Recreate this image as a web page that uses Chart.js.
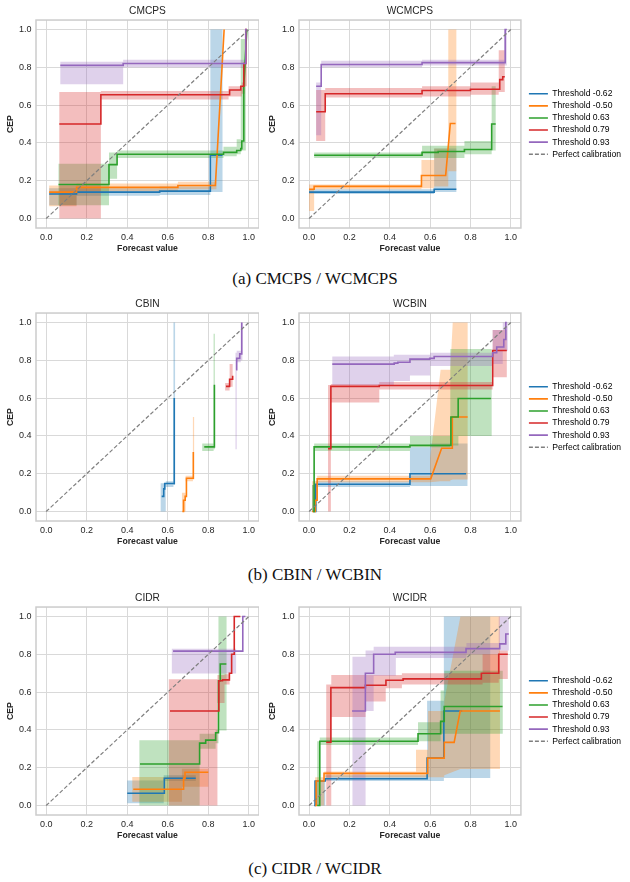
<!DOCTYPE html>
<html>
<head>
<meta charset="utf-8">
<script src="https://cdn.jsdelivr.net/npm/chart.js@4.4.0/dist/chart.umd.min.js"></script>
<style>
  html, body { margin: 0; padding: 0; background: #fff; }
  body { position: relative; width: 630px; height: 882px; overflow: hidden; }
  .panel { position: absolute; height: 254px; }
  .panel.left { left: 0; width: 259px; }
  .panel.right { left: 262px; width: 369px; }
  .cap { position: absolute; transform: translateX(-50%); white-space: nowrap;
         font: 17px "Liberation Serif", "Times New Roman", serif; color: #111; line-height: 20px; }
</style>
</head>
<body>
<div class="panel left" style="top:0"><canvas id="cmcps"></canvas></div>
<div class="panel right" style="top:0"><canvas id="wcmcps"></canvas></div>
<div class="cap" style="left:315px;top:269px">(a) CMCPS / WCMCPS</div>

<div class="panel left" style="top:293px"><canvas id="cbin"></canvas></div>
<div class="panel right" style="top:293px"><canvas id="wcbin"></canvas></div>
<div class="cap" style="left:315px;top:565px">(b) CBIN / WCBIN</div>

<div class="panel left" style="top:587px"><canvas id="cidr"></canvas></div>
<div class="panel right" style="top:587px"><canvas id="wcidr"></canvas></div>
<div class="cap" style="left:315px;top:859px">(c) CIDR / WCIDR</div>

<script>
// ---- data ----
// line rows: [x, y, diag?]  -> value y holds from x on (steps-post); diag=1 means straight segment to here
// band rows: [x, lo, hi, diag?]
const THRESHOLDS = ['-0.62', '-0.50', '0.63', '0.79', '0.93'];
const COLORS = ['#1f77b4', '#ff7f0e', '#2ca02c', '#d62728', '#9467bd'];
const TICKS = [0, 0.2, 0.4, 0.6, 0.8, 1.0];
const DIAG = [0, 1];

const cmcpsLines = [
  [[0.015,0.13],[0.15,0.14],[0.56,0.145],[0.81,0.335],[0.87,0.335]],
  [[0.015,0.14],[0.15,0.165],[0.65,0.175],[0.835,0.18],[0.878,1.0,1]],
  [[0.061,0.18],[0.31,0.285],[0.35,0.34],[0.875,0.35],[0.94,0.36],[0.96,0.37],[0.965,0.41],[0.975,0.45],[0.975,0.7],[0.99,1.0,1]],
  [[0.065,0.5],[0.27,0.655],[0.905,0.68],[0.96,0.7],[0.975,0.82],[0.985,1.0],[0.99,1.0]],
  [[0.07,0.81],[0.38,0.82],[0.985,1.0],[0.99,1.0]]
];
const cmcpsBands = [
  [[0.015,0.07,0.16],[0.15,0.12,0.16],[0.56,0.125,0.17],[0.81,0.14,1.0],[0.87,0.14,1.0]],
  [[0.015,0.065,0.175],[0.15,0.145,0.185],[0.65,0.155,0.195],[0.84,0.155,0.195]],
  [[0.061,0.07,0.29],[0.31,0.21,0.35],[0.35,0.32,0.36],[0.875,0.33,0.38],[0.94,0.34,0.42],[0.96,0.36,0.95],[0.985,0.36,0.95]],
  [[0.065,0.0,0.67],[0.27,0.63,0.675],[0.9,0.645,0.70],[0.965,0.66,0.72],[0.98,0.7,1.0],[0.99,0.7,1.0]],
  [[0.07,0.71,0.83],[0.38,0.80,0.84],[0.985,0.80,0.84]]
];

const wcmcpsLines = [
  [[0.0,0.14],[0.62,0.155],[0.73,0.155]],
  [[0.0,0.155],[0.025,0.17],[0.557,0.228],[0.677,0.228],[0.70,0.503,1],[0.726,0.503]],
  [[0.025,0.335],[0.56,0.35],[0.64,0.355],[0.77,0.365],[0.905,0.5],[0.925,0.5]],
  [[0.035,0.565],[0.08,0.66],[0.56,0.677],[0.8,0.684],[0.945,0.735],[0.96,0.75],[0.97,0.75]],
  [[0.035,0.70],[0.06,0.815],[0.56,0.825],[0.972,1.0],[0.98,1.0]]
];
const wcmcpsBands = [
  [[0.0,0.13,0.155],[0.62,0.14,0.37],[0.73,0.14,0.37]],
  [[0.0,0.04,0.18],[0.025,0.155,0.18],[0.557,0.16,0.31],[0.62,0.17,0.37],[0.69,0.25,1.0],[0.73,0.25,1.0]],
  [[0.025,0.32,0.35],[0.56,0.32,0.385],[0.77,0.34,0.41],[0.905,0.36,0.7],[0.925,0.36,0.7]],
  [[0.035,0.41,0.68],[0.08,0.64,0.69],[0.56,0.645,0.70],[0.8,0.655,0.72],[0.94,0.67,0.89],[0.97,0.67,0.89]],
  [[0.035,0.44,0.72],[0.06,0.80,0.835],[0.56,0.81,0.84],[0.97,0.81,1.0],[0.98,0.81,1.0]]
];

const cbinLines = [
  [[0.57,0.08],[0.58,0.12],[0.585,0.148],[0.632,0.6]],
  [[0.672,0.0],[0.678,0.06],[0.686,0.08],[0.692,0.176],[0.726,0.315]],
  [[0.78,0.342],[0.83,0.671]],
  [[0.887,0.662],[0.905,0.70],[0.92,0.718]],
  [[0.937,0.75],[0.94,0.81],[0.955,0.834],[0.965,1.0]]
];
const cbinBands = [
  [[0.565,0.0,0.15],[0.59,0.13,0.16],[0.628,0.14,1.0],[0.636,0.14,1.0]],
  [[0.67,0.0,0.1],[0.688,0.16,0.19],[0.724,0.17,0.5],[0.73,0.17,0.5]],
  [[0.77,0.32,0.36],[0.826,0.33,0.94],[0.832,0.33,0.94]],
  [[0.883,0.64,0.68],[0.905,0.66,0.78],[0.92,0.66,0.78]],
  [[0.934,0.33,0.84],[0.94,0.79,0.85],[0.96,0.8,1.0],[0.968,0.8,1.0]]
];

const wcbinLines = [
  [[0.02,0.0],[0.033,0.144],[0.5,0.2],[0.778,0.2]],
  [[0.015,0.0],[0.03,0.06],[0.04,0.173],[0.603,0.173],[0.657,0.335,1],[0.706,0.335],[0.71,0.5],[0.786,0.5]],
  [[0.02,0.0],[0.025,0.342],[0.5,0.35],[0.703,0.5],[0.739,0.598],[0.901,0.598]],
  [[0.094,0.333],[0.108,0.662],[0.348,0.667],[0.91,0.852],[0.98,0.852]],
  [[0.115,0.78],[0.422,0.785],[0.44,0.79],[0.5,0.806],[0.598,0.81],[0.62,0.82],[0.91,0.84],[0.93,0.87],[0.965,0.91],[0.975,1.0],[0.98,1.0]]
];
const wcbinBands = [
  [[0.015,0.0,0.14],[0.033,0.13,0.16],[0.5,0.135,0.34],[0.6,0.135,0.36],[0.785,0.135,0.36]],
  [[0.015,0.0,0.16],[0.04,0.155,0.19],[0.6,0.155,0.28],[0.652,0.16,0.75,1],[0.70,0.165,0.75],[0.712,0.17,1.0,1],[0.786,0.17,1.0]],
  [[0.015,0.0,0.14],[0.025,0.32,0.36],[0.5,0.34,0.40],[0.70,0.35,0.86],[0.74,0.40,0.86],[0.905,0.40,0.86]],
  [[0.094,0.0,0.67],[0.108,0.577,0.675],[0.348,0.645,0.685],[0.91,0.71,0.96],[0.98,0.71,0.96]],
  [[0.115,0.67,0.82],[0.42,0.69,0.83],[0.5,0.72,0.83],[0.6,0.77,0.84],[0.91,0.78,0.96],[0.96,0.85,1.0],[0.985,0.85,1.0]]
];

const cidrLines = [
  [[0.4,0.065],[0.583,0.144],[0.738,0.144]],
  [[0.43,0.086],[0.678,0.145],[0.685,0.176],[0.80,0.176]],
  [[0.463,0.22],[0.757,0.33],[0.787,0.346],[0.836,0.385],[0.85,0.66],[0.859,0.749],[0.889,0.749]],
  [[0.611,0.5],[0.852,0.66],[0.87,0.665],[0.904,0.70],[0.915,0.80],[0.928,1.0],[0.958,1.0]],
  [[0.626,0.817],[0.97,1.0],[0.983,1.0]]
];
const cidrBands = [
  [[0.4,0.012,0.132],[0.58,0.13,0.16],[0.738,0.13,0.16]],
  [[0.425,0.02,0.151],[0.67,0.1,0.195],[0.80,0.1,0.195]],
  [[0.46,0.0,0.346],[0.757,0.3,0.38],[0.836,0.33,0.40],[0.85,0.397,1.0],[0.89,0.397,1.0]],
  [[0.605,0.0,0.668],[0.845,0.543,0.69],[0.88,0.64,0.695],[0.905,0.64,0.695]],
  [[0.62,0.698,0.83],[0.937,0.698,0.83]]
];

const wcidrLines = [
  [[0.025,0.0],[0.03,0.13],[0.08,0.142],[0.585,0.251],[0.668,0.5],[0.759,0.5]],
  [[0.03,0.0],[0.035,0.13],[0.074,0.17],[0.588,0.251],[0.67,0.334],[0.719,0.334],[0.749,0.5,1],[0.946,0.5]],
  [[0.04,0.0],[0.053,0.34],[0.54,0.38],[0.652,0.445],[0.67,0.524],[0.959,0.524]],
  [[0.085,0.335],[0.108,0.624],[0.279,0.636],[0.381,0.663],[0.466,0.67],[0.854,0.70],[0.94,0.80],[0.985,0.80]],
  [[0.213,0.5],[0.279,0.7],[0.32,0.8],[0.427,0.81],[0.778,0.83],[0.945,0.855],[0.975,0.907],[0.99,0.907]]
];
const wcidrBands = [
  [[0.025,0.0,0.13],[0.08,0.13,0.16],[0.585,0.13,0.554],[0.668,0.146,1.0],[0.898,0.146,1.0]],
  [[0.03,0.0,0.15],[0.075,0.15,0.18],[0.53,0.15,0.295],[0.59,0.15,0.5],[0.67,0.16,0.55],[0.75,0.193,1.0,1],[0.946,0.193,1.0]],
  [[0.04,0.0,0.34],[0.053,0.32,0.36],[0.54,0.34,0.44],[0.652,0.38,0.608],[0.67,0.38,0.713],[0.96,0.38,0.713]],
  [[0.085,0.0,0.64],[0.11,0.469,0.69],[0.28,0.55,0.69],[0.38,0.62,0.69],[0.46,0.64,0.70],[0.86,0.65,0.80],[0.94,0.67,0.82],[0.985,0.67,0.82]],
  [[0.215,0.0,0.787],[0.28,0.5,0.82],[0.32,0.687,0.84],[0.43,0.78,0.84],[0.78,0.8,0.86],[0.94,0.82,1.0],[0.99,0.82,1.0]]
];

// ---- style ----
const SANS = '"Liberation Sans", Arial, sans-serif';
const TXT = '#262626';
const GRID = '#d9d9d9';
const FRAME = '#cccccc';
const DIAG_COLOR = '#7f7f7f';

Chart.defaults.font.family = SANS;
Chart.defaults.color = TXT;

function rgba(hex, a) {
  const n = parseInt(hex.slice(1), 16);
  return `rgba(${n >> 16},${(n >> 8) & 255},${n & 255},${a})`;
}

// rows -> polyline vertices (steps-post unless row is flagged diagonal)
function trace(rows, col, flag) {
  const out = [{x: rows[0][0], y: rows[0][col]}];
  for (let i = 1; i < rows.length; i++) {
    const r = rows[i];
    if (!r[flag]) out.push({x: r[0], y: rows[i - 1][col]});
    out.push({x: r[0], y: r[col]});
  }
  return out;
}
const linePts = rows => trace(rows, 1, 2);
const bandPoly = rows => trace(rows, 2, 3).concat(trace(rows, 1, 3).reverse());

const framePlugin = {
  id: 'frame',
  afterDatasetsDraw(chart) {
    const {ctx, chartArea: a} = chart;
    ctx.save();
    ctx.strokeStyle = FRAME; ctx.lineWidth = 1.5;
    ctx.strokeRect(a.left, a.top, a.right - a.left, a.bottom - a.top);
    ctx.restore();
  }
};

const legendItems = () => THRESHOLDS.map((t, i) => ({
  text: 'Threshold ' + t, strokeStyle: COLORS[i], fillStyle: COLORS[i], lineWidth: 1.6,
  pointStyle: 'line', lineDash: [], hidden: false, datasetIndex: i
})).concat([{
  text: 'Perfect calibration', strokeStyle: DIAG_COLOR, fillStyle: DIAG_COLOR, lineWidth: 1.3,
  pointStyle: 'line', lineDash: [4, 2], hidden: false
}]);

function axis(label, isX) {
  return {
    type: 'linear', min: -0.05, max: 1.05,
    afterBuildTicks: s => { s.ticks = TICKS.map(value => ({value})); },
    grid: {color: GRID, lineWidth: 1, drawTicks: false},
    border: {display: false},
    ticks: {padding: isX ? 3.8 : 4.5, autoSkip: false, maxRotation: 0, color: TXT,
            font: {size: 9}, callback: v => Number(v).toFixed(1)},
    title: {display: true, text: label, color: TXT, font: {size: 8.7, weight: 'bold'},
            padding: isX ? {top: 0, bottom: 0} : {top: 5.2, bottom: 0}}
  };
}

function makeChart(id, title, lines, bands, withLegend) {
  const datasets = [];
  lines.forEach((rows, i) => datasets.push({
    data: linePts(rows), borderColor: COLORS[i], borderWidth: 1.6,
    pointRadius: 0, fill: false, tension: 0, order: 5 - i
  }));
  bands.forEach((rows, i) => datasets.push({
    data: bandPoly(rows), borderWidth: 0, borderColor: 'rgba(0,0,0,0)',
    backgroundColor: rgba(COLORS[i], 0.3), pointRadius: 0, fill: 'shape', tension: 0, order: 10 - i
  }));
  datasets.push({
    data: DIAG.map(v => ({x: v, y: v})), borderColor: DIAG_COLOR, borderWidth: 1.2,
    borderDash: [4, 2.2], pointRadius: 0, fill: false, order: 0
  });

  const x = axis('Forecast value', true);
  x.afterFit = s => { s.height = 26; };
  const y = axis('CEP', false);
  y.afterFit = s => { s.width = withLegend ? 37 : 36; };
  const scales = {x, y};
  if (withLegend) {
    // thin spacer between plot frame and legend
    scales.gap = {position: 'right', display: true, grid: {display: false}, border: {display: false},
                  ticks: {display: false}, afterFit: s => { s.width = 4.5; }};
  }

  return new Chart(document.getElementById(id), {
    type: 'line',
    data: {datasets},
    options: {
      responsive: true, maintainAspectRatio: false, animation: false, events: [],
      layout: {padding: 0},
      scales,
      plugins: {
        title: {display: true, text: title, fullSize: false, color: TXT,
                font: {size: 10.2, weight: 'normal'}, padding: {top: 4.8, bottom: 3}},
        legend: withLegend ? {
          display: true, position: 'right', align: 'center', fullSize: false, maxWidth: 140,
          labels: {usePointStyle: true, pointStyleWidth: 19, padding: 3.5, color: TXT,
                   font: {size: 8.6}, generateLabels: legendItems}
        } : {display: false},
        tooltip: {enabled: false}
      }
    },
    plugins: [framePlugin]
  });
}

makeChart('cmcps', 'CMCPS', cmcpsLines, cmcpsBands, false);
makeChart('wcmcps', 'WCMCPS', wcmcpsLines, wcmcpsBands, true);
makeChart('cbin', 'CBIN', cbinLines, cbinBands, false);
makeChart('wcbin', 'WCBIN', wcbinLines, wcbinBands, true);
makeChart('cidr', 'CIDR', cidrLines, cidrBands, false);
makeChart('wcidr', 'WCIDR', wcidrLines, wcidrBands, true);
</script>
</body>
</html>
